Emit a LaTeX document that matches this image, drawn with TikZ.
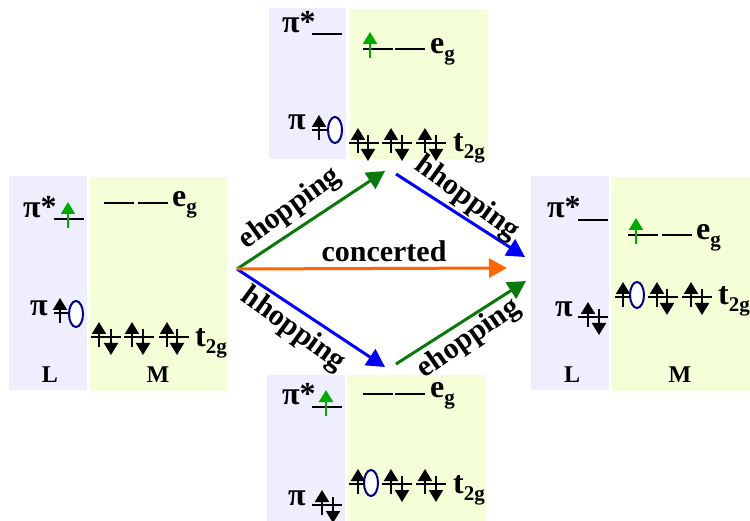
\documentclass[tikz,border=0pt]{standalone}
\usepackage{xcolor}
\usepackage{fontspec}
\setmainfont{Liberation Serif}
\usetikzlibrary{arrows.meta}

\definecolor{boxL}{RGB}{238,238,254}
\definecolor{boxM}{RGB}{245,255,215}
\definecolor{spingreen}{RGB}{0,170,0}
\definecolor{hopgreen}{RGB}{10,120,10}
\definecolor{hopblue}{RGB}{0,0,250}
\definecolor{hoporange}{RGB}{255,102,0}
\definecolor{holeblue}{RGB}{0,0,128}

% level, spins and hole, all at absolute positions
\newcommand{\levelat}[3][30]{\draw[level] (#2,#3) -- ++(#1,0);}
\newcommand{\spinup}[2]{\draw[spin,-{Triangle[length=12pt,width=14pt]}] (#1,#2+10) -- (#1,#2-15);}
\newcommand{\spindown}[2]{\draw[spin,-{Triangle[length=12pt,width=14pt]}] (#1,#2-8) -- (#1,#2+18);}
\newcommand{\spinex}[2]{\draw[spin,spingreen,-{Triangle[length=12pt,width=14pt]}] (#1,#2+9) -- (#1,#2-17);}
\newcommand{\holeat}[2]{\draw[holeblue,line width=2pt,fill=white] (#1,#2) ellipse (7 and 13);}
\newcommand{\subg}[2]{#1\raisebox{-7pt}{\fontsize{21}{21}\selectfont #2}}

\begin{document}
\begin{tikzpicture}[
x=1pt,y=-1pt,
level/.style={line width=1.3pt},
spin/.style={line width=2pt},
sym/.style={inner sep=0pt,anchor=base west,font=\fontsize{32}{32}\selectfont\bfseries},
tag/.style={inner sep=0pt,anchor=base,font=\fontsize{24}{24}\selectfont\bfseries},
hoplabel/.style={inner sep=0pt,font=\fontsize{30}{30}\selectfont\bfseries},
hop/.style={line width=3pt,-{Triangle[length=18pt,width=19pt]}}
]
\useasboundingbox (0,0) rectangle (750,521);

% Boxes
\fill[boxL] (9,176) rectangle (87,390);
\fill[boxM] (90,177) rectangle (228,391);
\fill[boxL] (269,8) rectangle (346,159);
\fill[boxM] (350,9) rectangle (488,159);
\fill[boxL] (531,176) rectangle (609,390);
\fill[boxM] (612,177) rectangle (750,391);
\fill[boxL] (267,375) rectangle (345,521);
\fill[boxM] (348,375) rectangle (486,521);

% Left state
\node[sym] (lpistar) at (23,218) {π*};
\levelat{54}{219}
\spinex{68}{219}
\node[sym] (lpi) at (30,316) {π};
\levelat[16]{54}{313}
\spinup{60}{313}
\holeat{76}{314}
\levelat{104}{203}
\levelat{138}{203}
\node[sym] (leg) at (172,207) {\subg{e}{g}};
\foreach \xa/\xb/\xc in {91/99/111,124/132/143,159/167/177}{
  \levelat{\xa}{337}
  \spinup{\xb}{337}
  \spindown{\xc}{337}
}
\node[sym] (lt) at (195,347) {\subg{t}{2g}};
\node[tag] (lL) at (50,383) {L};
\node[tag] (lM) at (158,383) {M};

% Top state
\node[sym] (tpistar) at (282,33) {π*};
\levelat{312}{34}
\node[sym] (tpi) at (288,130) {π};
\levelat[16]{312}{130}
\spinup{319}{130}
\holeat{335}{130}
\levelat{363}{49}
\levelat{395}{49}
\spinex{370}{49}
\node[sym] (teg) at (430,54) {\subg{e}{g}};
\foreach \xa/\xb/\xc in {349/358/368,382/391/402,416/425/436}{
  \levelat{\xa}{143}
  \spinup{\xb}{143}
  \spindown{\xc}{143}
}
\node[sym] (tt) at (453,152) {\subg{t}{2g}};

% Right state
\node[sym] (rpistar) at (547,218) {π*};
\levelat{578}{220}
\node[sym] (rpi) at (555,317) {π};
\levelat{578}{317}
\spinup{588}{317}
\spindown{599}{317}
\levelat{628}{235}
\levelat{662}{235}
\spinex{636}{235}
\node[sym] (reg) at (696,240) {\subg{e}{g}};
\levelat[16]{615}{297}
\spinup{623}{297}
\holeat{637}{295}
\foreach \xa/\xb/\xc in {648/657/667,682/691/702}{
  \levelat{\xa}{297}
  \spinup{\xb}{297}
  \spindown{\xc}{297}
}
\node[sym] (rt) at (718,305) {\subg{t}{2g}};
\node[tag] (rL) at (572,383) {L};
\node[tag] (rM) at (680,383) {M};

% Bottom state
\node[sym] (bpistar) at (282,405) {π*};
\levelat{312}{407}
\spinex{326}{407}
\node[sym] (bpi) at (288,505) {π};
\levelat{312}{505}
\spinup{322}{505}
\spindown{333}{505}
\levelat{363}{394}
\levelat{395}{394}
\node[sym] (beg) at (430,398) {\subg{e}{g}};
\levelat[16]{349}{484}
\spinup{358}{484}
\holeat{371}{483}
\foreach \xa/\xb/\xc in {382/391/402,416/425/436}{
  \levelat{\xa}{484}
  \spinup{\xb}{484}
  \spindown{\xc}{484}
}
\node[sym] (bt) at (453,493) {\subg{t}{2g}};

% Hopping paths
\coordinate (start) at (237,269);
\coordinate (topin) at (385,171);
\coordinate (topout) at (396,174);
\coordinate (botin) at (385,367);
\coordinate (botout) at (396,364);
\coordinate (endtop) at (525,257);
\coordinate (endmid) at (507,268);
\coordinate (endbot) at (526,281);

\draw[hop,hopgreen] (start) -- (topin);
\draw[hop,hopblue] (start) -- (botin);
\draw[hop,hopblue] (topout) -- (endtop);
\draw[hop,hopgreen] (botout) -- (endbot);
\draw[hop,hoporange] (start) -- (endmid);

\node[hoplabel,rotate=36] (hopa) at (290,209) {ehopping};
\node[hoplabel,rotate=-36] (hopb) at (467,199) {hhopping};
\node[hoplabel] (hopc) at (384,251) {concerted};
\node[hoplabel,rotate=-36] (hopd) at (293,330) {hhopping};
\node[hoplabel,rotate=35] (hope) at (469,339) {ehopping};
\end{tikzpicture}
\end{document}
